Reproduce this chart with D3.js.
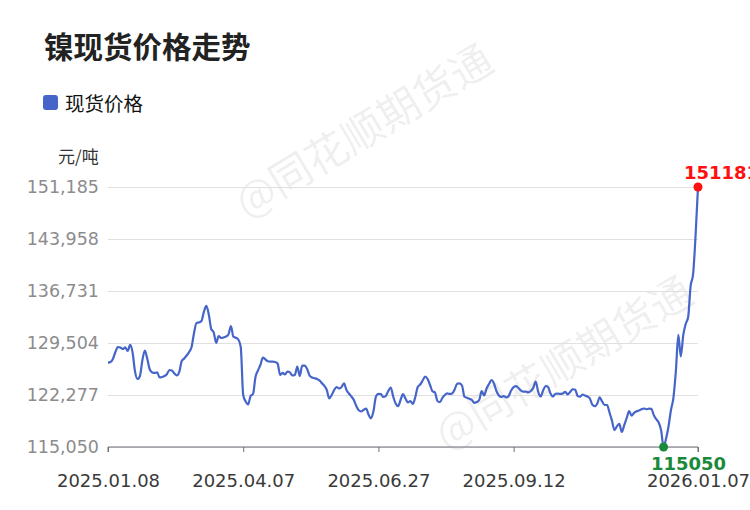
<!DOCTYPE html>
<html>
<head>
<meta charset="utf-8">
<script src="https://cdn.jsdelivr.net/npm/d3@7/dist/d3.min.js"></script>
<style>
  html, body { margin: 0; padding: 0; background: #fff; }
  svg { display: block; }
</style>
</head>
<body>
<div id="chart"></div>
<script>
const title = "镍现货价格走势";
const seriesName = "现货价格";
const unitLabel = "元/吨";
const watermark = "@同花顺期货通";

const yTicks = [115050, 122277, 129504, 136731, 143958, 151185];
const xTickIndex = [0, 55, 110, 165, 240];
const xTickLabels = ["2025.01.08", "2025.04.07", "2025.06.27", "2025.09.12", "2026.01.07"];

const values = [
126770,126860,127280,128250,128950,128880,128670,128910,128390,129230,
128190,125520,124500,124920,127140,128460,127280,125820,125410,125340,
125410,124710,124780,124920,125200,125750,125680,125270,124990,125480,
127000,127350,127770,128260,128950,130900,132290,132360,132560,133820,
134650,133470,131450,130990,129510,130480,130200,130270,130410,130690,
131870,130380,130240,129990,128950,122280,121370,120960,122140,122420,
124780,125680,126450,127490,127240,126960,126910,126910,126870,126660,
125060,125360,125130,125540,125410,124990,125060,126240,124920,126350,
126350,125890,124990,124710,124610,124500,124320,123920,123560,122970,
121790,122280,122970,123390,123180,123390,123900,122970,122490,122070,
121580,120750,120150,119990,120220,120400,119540,119040,120050,122070,
122420,122390,122000,122140,122830,123320,122070,121100,120720,121580,
122390,121790,121240,121440,121030,122000,123390,123740,124290,124850,
124500,123670,122790,122630,121440,121280,121860,122280,122490,122420,
122490,123040,123840,123900,123600,122040,121890,121750,121580,121170,
121310,121580,122830,122210,123180,123810,124360,123880,122830,122210,
122000,122140,121930,122140,122900,123360,123500,123250,122900,122740,
122740,122630,122830,123290,124150,122700,122070,122900,123530,123390,
122490,122070,122450,122470,122420,122490,122720,122350,122700,123070,
123040,122170,122040,122350,122200,122070,121790,120940,120720,121060,
121960,121370,120890,120890,119850,118710,117410,117910,118260,117140,
118080,119080,120050,119420,119800,120030,120120,120300,120400,120300,
120370,120360,119500,118910,118460,117360,115050,116200,117900,120190,
121890,125610,130620,127630,130590,132150,133120,137430,139030,144380,
151181
];

(function () {
const W = 750, H = 510;
const pL = 108, pR = 698, pT = 187, pB = 447;
const lineColor = "#4665c9";
const numFont = "'DejaVu Sans', sans-serif";
const cjkFont = "'Noto Sans CJK SC', 'Noto Sans', sans-serif";

const svg = d3.select("#chart").append("svg").attr("width", W).attr("height", H);

const x = d3.scalePoint().domain(d3.range(values.length)).range([pL, pR]);
const y = d3.scaleLinear().domain([yTicks[0], yTicks[yTicks.length - 1]]).range([pB, pT]);

// watermark
[[362, 128], [562, 360]].forEach(([cx, cy]) => {
  svg.append("text")
    .attr("transform", `translate(${cx},${cy}) rotate(-31)`)
    .attr("text-anchor", "middle")
    .attr("dominant-baseline", "central")
    .attr("font-family", cjkFont)
    .attr("font-size", 42)
    .attr("fill", "#000")
    .attr("fill-opacity", 0.075)
    .text(watermark);
});

// title
svg.append("text").attr("x", 44).attr("y", 58)
  .attr("font-family", cjkFont).attr("font-weight", "bold").attr("font-size", 29.5)
  .attr("fill", "#222").text(title);

// legend
svg.append("rect").attr("x", 43).attr("y", 95).attr("width", 15).attr("height", 15)
  .attr("rx", 3).attr("fill", lineColor);
svg.append("text").attr("x", 65).attr("y", 102).attr("dominant-baseline", "central")
  .attr("font-family", cjkFont).attr("font-size", 19.5).attr("fill", "#111").text(seriesName);

// unit
svg.append("text").attr("x", 58).attr("y", 155).attr("dominant-baseline", "central")
  .attr("font-family", cjkFont).attr("font-size", 17).attr("fill", "#333").text(unitLabel);

// grid + y labels
const yAxis = d3.axisLeft(y).tickValues(yTicks).tickSize(-(pR - pL)).tickPadding(9)
  .tickFormat(d3.format(","));
const gy = svg.append("g").attr("transform", `translate(${pL},0)`).call(yAxis);
gy.select(".domain").remove();
gy.selectAll(".tick line").attr("stroke", "#e0e0e0").attr("stroke-width", 1);
gy.selectAll(".tick text").attr("fill", "#8c8c8c").attr("font-family", numFont).attr("font-size", 17.5);

// x axis
const xAxis = d3.axisBottom(x).tickValues(xTickIndex).tickSize(5).tickPadding(22)
  .tickFormat((d) => xTickLabels[xTickIndex.indexOf(d)]);
const gx = svg.append("g").attr("transform", `translate(0,${pB})`).call(xAxis);
gx.select(".domain").attr("stroke", "#6e7079").attr("d", `M${pL},5V0H${pR}V5`);
gx.selectAll(".tick line").attr("stroke", "#6e7079");
gx.selectAll(".tick text").attr("fill", "#3a3a3a").attr("font-family", numFont).attr("font-size", 18);

// line
const line = d3.line().x((d, i) => x(i)).y((d) => y(d)).curve(d3.curveMonotoneX);
svg.append("path").datum(values).attr("d", line)
  .attr("fill", "none").attr("stroke", lineColor).attr("stroke-width", 2.2)
  .attr("stroke-linejoin", "round");

// max / min markers
const maxI = d3.maxIndex(values), minI = d3.minIndex(values);
svg.append("circle").attr("cx", x(maxI)).attr("cy", y(values[maxI])).attr("r", 4.5).attr("fill", "#ff1010");
svg.append("text").attr("x", x(maxI) - 14).attr("y", y(values[maxI]) - 8)
  .attr("font-family", numFont).attr("font-weight", "bold").attr("font-size", 18)
  .attr("fill", "#ff1010").text(values[maxI]);
svg.append("circle").attr("cx", x(minI)).attr("cy", y(values[minI])).attr("r", 4.5).attr("fill", "#1a8a3a");
svg.append("text").attr("x", x(minI) + 25).attr("y", y(values[minI]) + 23)
  .attr("text-anchor", "middle")
  .attr("font-family", numFont).attr("font-weight", "bold").attr("font-size", 18)
  .attr("fill", "#1a8a3a").text(values[minI]);
})();
</script>
</body>
</html>
